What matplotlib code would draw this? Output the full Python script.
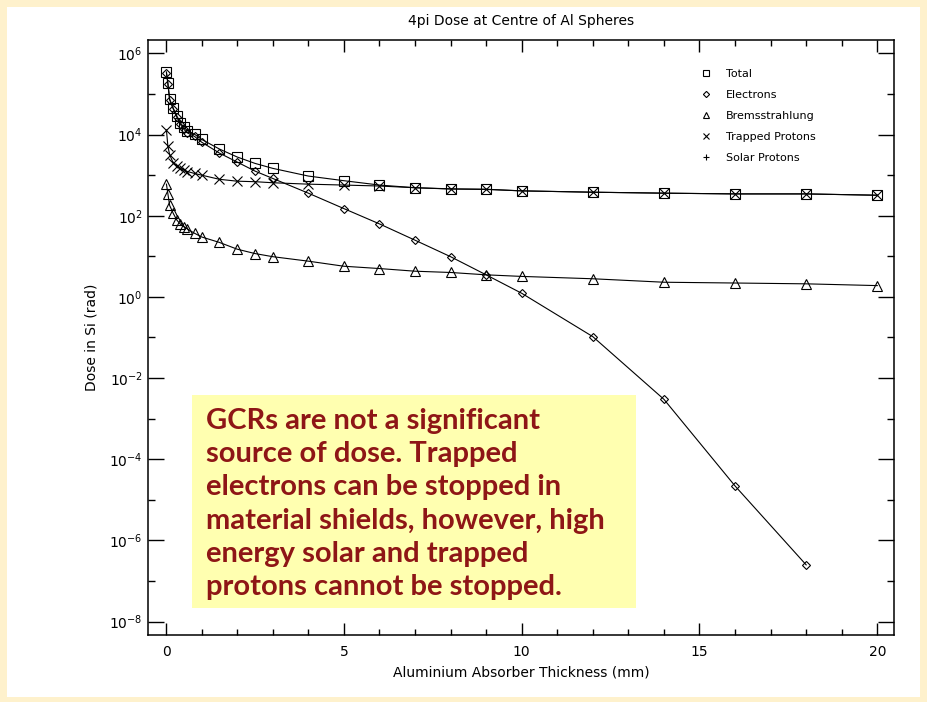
import matplotlib
matplotlib.use("Agg")
import matplotlib.pyplot as plt
from matplotlib.patches import Rectangle
from matplotlib.ticker import FixedLocator, MultipleLocator, LogFormatterMathtext, NullFormatter
import numpy as np

# shielding depths (mm Al)
thickness = [0.01, 0.05, 0.1, 0.2, 0.3, 0.4, 0.5, 0.6, 0.8, 1.0, 1.5, 2.0, 2.5, 3.0,
             4.0, 5.0, 6.0, 7.0, 8.0, 9.0, 10.0, 12.0, 14.0, 16.0, 18.0, 20.0]

# dose in Si (rad)
total = [3.5e5, 1.86e5, 7.5e4, 4.5e4, 2.9e4, 1.96e4, 1.5e4, 1.25e4, 1.02e4, 7.6e3,
         4.4e3, 2.8e3, 1.95e3, 1.47e3, 9.5e2, 7.3e2, 5.7e2, 4.9e2, 4.6e2, 4.5e2,
         4.1e2, 3.8e2, 3.6e2, 3.45e2, 3.45e2, 3.2e2]
electrons = [3.3e5, 1.8e5, 7.2e4, 4.3e4, 2.7e4, 1.8e4, 1.35e4, 1.1e4, 9.0e3, 6.5e3,
             3.5e3, 2.1e3, 1.26e3, 8.3e2, 3.6e2, 1.5e2, 63.0, 25.0, 9.8, 3.5,
             1.23, 0.105, 3.0e-3, 2.2e-5, 2.5e-7]
brems = [6.0e2, 3.5e2, 1.8e2, 1.15e2, 79.0, 62.0, 54.0, 47.0, 37.0, 30.0,
         22.0, 15.0, 11.7, 9.8, 7.6, 5.7, 5.0, 4.3, 4.0, 3.5,
         3.2, 2.8, 2.3, 2.2, 2.1, 1.9]
trapped_p = [1.3e4, 5.2e3, 3.2e3, 2.0e3, 1.67e3, 1.47e3, 1.35e3, 1.23e3, 1.1e3, 1.0e3,
             7.9e2, 7.1e2, 6.9e2, 6.5e2, 6.0e2, 5.7e2, 5.4e2, 4.9e2, 4.55e2, 4.45e2,
             4.1e2, 3.8e2, 3.6e2, 3.45e2, 3.45e2, 3.2e2]
solar_p = []

note = ("GCRs are not a significant\n"
        "source of dose. Trapped\n"
        "electrons can be stopped in\n"
        "material shields, however, high\n"
        "energy solar and trapped\n"
        "protons cannot be stopped.")

W, H = 927, 702
fig = plt.figure(figsize=(W / 100, H / 100), dpi=100)
fig.patch.set_facecolor("#FEF1CC")
fig.patches.append(Rectangle((7 / W, 5 / H), (W - 14) / W, (H - 12) / H,
                             transform=fig.transFigure, facecolor="white",
                             edgecolor="none", zorder=-10))

ax = fig.add_axes([148.3 / W, 67 / H, (894 - 148.3) / W, (635 - 40) / H])
ax.set_yscale("log")

kw = dict(color="black", lw=0.8, mfc="none", mec="black", mew=0.8)
ax.plot(thickness, total, marker="s", ms=7, label="Total", **kw)
ax.plot(thickness[:len(electrons)], electrons, marker="D", ms=4.5, label="Electrons", **kw)
ax.plot(thickness, brems, marker="^", ms=7, label="Bremsstrahlung", **kw)
ax.plot(thickness, trapped_p, marker="x", ms=7, label="Trapped Protons", **kw)
ax.plot(thickness[:len(solar_p)], solar_p, marker="+", ms=7, label="Solar Protons", **kw)

ax.set_xlim(-0.5, 20.47)
ax.set_ylim(10 ** -8.33, 10 ** 6.33)

ax.xaxis.set_major_locator(MultipleLocator(5))
ax.xaxis.set_minor_locator(MultipleLocator(1))
ax.yaxis.set_major_locator(FixedLocator(10.0 ** np.arange(-8, 7, 2)))
ax.yaxis.set_minor_locator(FixedLocator(10.0 ** np.arange(-7, 6, 2)))
ax.yaxis.set_major_formatter(LogFormatterMathtext())
ax.yaxis.set_minor_formatter(NullFormatter())

ax.tick_params(which="both", direction="in", top=True, right=True, width=1.0,
               labelsize=10, colors="black")
ax.tick_params(axis="x", which="major", length=8.6, pad=7)
ax.tick_params(axis="x", which="minor", length=4.3)
ax.tick_params(axis="y", which="major", length=11.5, pad=4)
ax.tick_params(axis="y", which="minor", length=5)
for s in ax.spines.values():
    s.set_linewidth(1.1)

ax.set_title("4pi Dose at Centre of Al Spheres", fontsize=10, pad=11)
ax.set_xlabel("Aluminium Absorber Thickness (mm)", fontsize=10, labelpad=5)
ax.set_ylabel("Dose in Si (rad)", fontsize=10, labelpad=8)

leg = ax.legend(loc="upper left", bbox_to_anchor=(700.4 / W, 1 - 69 / H),
                bbox_transform=fig.transFigure, frameon=False, fontsize=8,
                handlelength=1.0, handletextpad=1.3, labelspacing=0.98,
                borderpad=0, borderaxespad=0, markerscale=0.7)
# symbols only in the key, no line segments
for h in leg.get_lines():
    h.set_linestyle("none")

# yellow note box
fig.patches.append(Rectangle((192 / W, 1 - 608 / H), (636 - 192) / W, (608 - 395) / H,
                             transform=fig.transFigure, facecolor="#FFFFB0",
                             edgecolor="none", zorder=5))
fig.text(206 / W, 1 - 408 / H, note, ha="left", va="top", fontsize=21,
         family=["Lato", "DejaVu Sans"], weight="bold", color="#8E1616",
         linespacing=1.345, zorder=6)

fig.savefig("out.png", dpi=100, facecolor=fig.get_facecolor())
